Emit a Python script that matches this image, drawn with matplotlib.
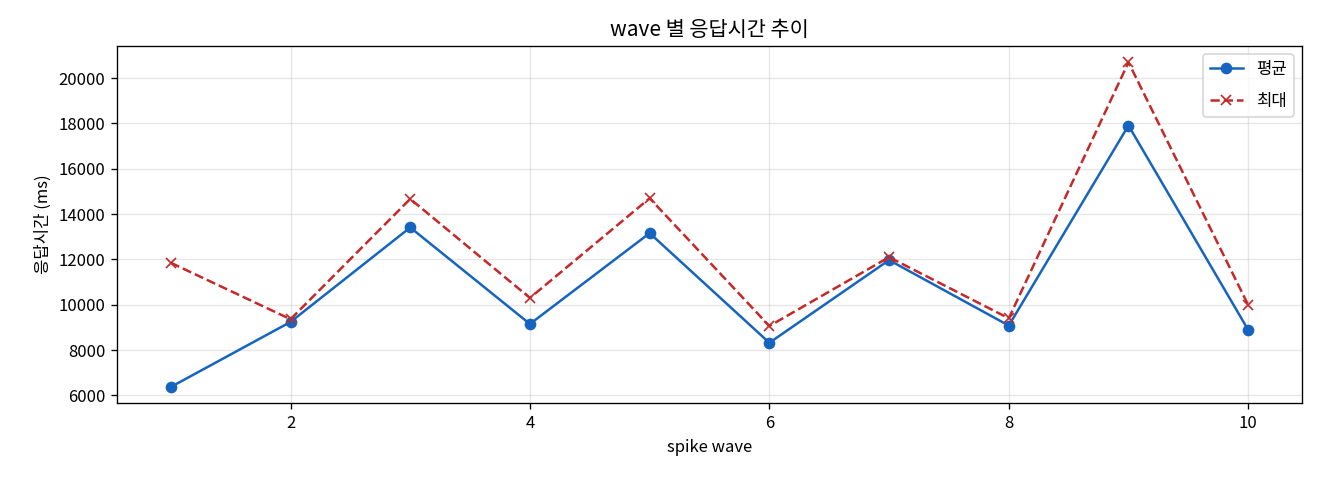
import matplotlib
matplotlib.use("Agg")
import matplotlib.pyplot as plt

plt.rcParams['font.family'] = ['Noto Sans CJK KR', 'DejaVu Sans']
plt.rcParams['axes.unicode_minus'] = False

# data
waves = [1, 2, 3, 4, 5, 6, 7, 8, 9, 10]
avg_ms = [6370, 9240, 13410, 9150, 13160, 8320, 11970, 9080, 17910, 8890]
max_ms = [11850, 9360, 14670, 10300, 14700, 9060, 12100, 9400, 20700, 9990]

fig, ax = plt.subplots(figsize=(11, 4), dpi=120)
fig.subplots_adjust(left=0.0886, right=0.9864, top=0.904, bottom=0.160)

ax.plot(waves, avg_ms, marker='o', color='#1565C0', linewidth=1.5, markersize=6, label='평균')
ax.plot(waves, max_ms, marker='x', linestyle='--', color='#C62828', linewidth=1.5, markersize=6, label='최대')

ax.set_title('wave 별 응답시간 추이', fontsize=12.5)
ax.set_xlabel('spike wave', fontsize=10)
ax.set_ylabel('응답시간 (ms)', fontsize=10)
ax.grid(True, alpha=0.3)
ax.legend(loc='upper right', fontsize=10, labelspacing=0.9)

plt.savefig('out.png', dpi=120)
